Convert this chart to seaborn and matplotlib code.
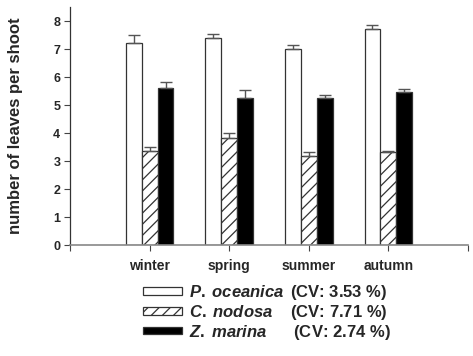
import numpy as np
import pandas as pd
import matplotlib
matplotlib.use("Agg")
import matplotlib.pyplot as plt
import seaborn as sns

seasons = ["winter", "spring", "summer", "autumn"]
species = ["P. oceanica", "C. nodosa", "Z. marina"]
cv_labels = ["(CV: 3.53 %)", "(CV: 7.71 %)", "(CV: 2.74 %)"]
p_oceanica = [7.20, 7.38, 6.99, 7.70]
p_oceanica_err = [0.31, 0.17, 0.14, 0.17]
c_nodosa = [3.34, 3.83, 3.17, 3.31]
c_nodosa_err = [0.16, 0.16, 0.16, 0.06]
z_marina = [5.60, 5.26, 5.26, 5.45]
z_marina_err = [0.23, 0.26, 0.11, 0.13]

sns.set_style("ticks")
plt.rcParams["font.family"] = ["Liberation Sans", "DejaVu Sans"]
plt.rcParams["mathtext.fontset"] = "custom"
plt.rcParams["mathtext.it"] = "Liberation Sans:italic:bold"
plt.rcParams["mathtext.rm"] = "Liberation Sans:bold"
plt.rcParams["hatch.linewidth"] = 0.9

values = [p_oceanica, c_nodosa, z_marina]
errors = [p_oceanica_err, c_nodosa_err, z_marina_err]
df = pd.DataFrame({
    "season": np.repeat([seasons], 3, axis=0).ravel(),
    "species": np.repeat(species, len(seasons)),
    "value": np.concatenate(values),
})

fig = plt.figure(figsize=(4.73, 3.56), dpi=100)
ax = fig.add_axes([70/473, 1-245/356, 398/473, 238/356])

sns.barplot(data=df, x="season", y="value", hue="species", order=seasons,
            hue_order=species, errorbar=None, width=0.6, ax=ax,
            palette=["white", "white", "black"], edgecolor="#333333",
            linewidth=0.9, legend=False, saturation=1)

hatches = ["", "///", ""]
for cont, h, err in zip(ax.containers, hatches, errors):
    xs, ys = [], []
    for bar in cont:
        bar.set_hatch(h)
        xs.append(bar.get_x() + bar.get_width()/2)
        ys.append(bar.get_height())
    ax.errorbar(xs, ys, yerr=[np.zeros(len(err)), err], fmt="none",
                ecolor="#555555", elinewidth=1.0, capsize=4, capthick=1.0, zorder=1)

ax.set_xlim(-1, 4)
ax.set_ylim(0, 8.5)
ax.set_xticks(np.arange(-1, 5))
ax.set_xticklabels([""] + seasons + [""], fontsize=10, fontweight="bold")
ax.set_yticks(np.arange(0, 9))
ax.set_yticklabels([str(i) for i in range(9)], fontsize=9, fontweight="bold")
ax.tick_params(axis="both", length=4, width=0.8, color="#444444", pad=3)
ax.tick_params(axis="x", pad=6)
ax.set_xlabel("")
ax.set_ylabel("number of leaves per shoot", fontsize=12, fontweight="bold", labelpad=22)
for s in ["top", "right"]:
    ax.spines[s].set_visible(False)
ax.spines["left"].set_color("#333333")
ax.spines["bottom"].set_color("#888888")
ax.spines["left"].set_linewidth(0.9)
ax.spines["bottom"].set_linewidth(1.2)

labels = [r"$\mathit{P.\;oceanica}\,$ " + cv_labels[0],
          r"$\mathit{C.\;nodosa}$    " + cv_labels[1],
          r"$\mathit{Z.\;marina}$      " + cv_labels[2]]
handles = [cont[0] for cont in ax.containers[:3]]
fig.legend(handles, labels, loc="upper left", bbox_to_anchor=(143/473, 1-283/356),
           frameon=False, borderpad=0, borderaxespad=0, handlelength=2.35,
           handleheight=0.3, handletextpad=0.4, labelspacing=0.05,
           prop={"size": 12, "weight": "bold"})

fig.savefig("out.png", dpi=100)
